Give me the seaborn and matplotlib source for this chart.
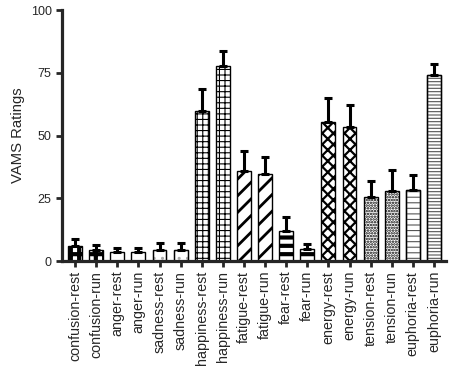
import matplotlib
matplotlib.use("Agg")
import matplotlib.pyplot as plt
import numpy as np
import pandas as pd
import seaborn as sns
from matplotlib.patches import Rectangle

# VAMS ratings
conditions = ["confusion-rest", "confusion-run", "anger-rest", "anger-run",
              "sadness-rest", "sadness-run", "happiness-rest", "happiness-run",
              "fatigue-rest", "fatigue-run", "fear-rest", "fear-run",
              "energy-rest", "energy-run", "tension-rest", "tension-run",
              "euphoria-rest", "euphoria-run"]
means = [6.1, 4.6, 3.5, 3.7, 4.6, 4.6, 59.9, 77.8, 36.0, 34.8, 11.8, 4.8,
         55.6, 53.3, 25.5, 28.0, 28.4, 74.2]
sems = [2.5, 1.8, 1.7, 1.5, 2.7, 2.7, 8.6, 5.9, 8.0, 6.7, 5.9, 1.8,
        9.2, 8.7, 6.2, 8.3, 5.9, 4.3]

# hatch, hatch linewidth, hatch colour for each bar
hatches = ["++", "++", "", "", "..", "..", "+++", "+++", "//", "//", "--", "--",
           "xxx", "xxx", "......", "......", "---", "-----"]
hatch_lw = [3.0, 3.0, 1, 1, 1, 1, 0.8, 0.8, 2.0, 2.0, 3.0, 3.0,
            1.6, 1.6, 1.2, 1.2, 0.8, 0.8]
hatch_col = ["black"] * 4 + ["#aaaaaa"] * 2 + ["black"] * 10 + ["#555555"] * 2

sns.set_style("ticks")
plt.rcParams["font.family"] = ["Liberation Sans", "DejaVu Sans"]

df = pd.DataFrame({"cond": conditions, "val": means})

fig, ax = plt.subplots(figsize=(4.56, 3.74), dpi=100)
fig.subplots_adjust(left=0.136, right=0.978, top=0.973, bottom=0.302)

sns.barplot(data=df, x="cond", y="val", color="white", edgecolor="black",
            linewidth=1.0, width=0.66, errorbar=None, ax=ax, zorder=2)

for p, h, lw, hc in zip(ax.patches, hatches, hatch_lw, hatch_col):
    p.set_facecolor("white")
    p.set_edgecolor(hc)
    p.set_hatch(h)
    if hasattr(p, "set_hatch_linewidth"):
        p.set_hatch_linewidth(lw)
    if hc != "black":
        ax.add_patch(Rectangle((p.get_x(), p.get_y()), p.get_width(), p.get_height(),
                               fill=False, edgecolor="black", linewidth=1.0, zorder=2.5))

x = np.arange(len(conditions))
ax.errorbar(x, means, yerr=[np.zeros(len(sems)), sems], fmt="none",
            ecolor="black", elinewidth=2.2, capsize=3.2, capthick=2.2, zorder=3)

ax.set_ylim(0, 100)
ax.set_xlim(-0.62, 17.57)
ax.set_yticks([0, 25, 50, 75, 100])
ax.set_ylabel("VAMS Ratings", fontsize=10.7, labelpad=4)
ax.set_xlabel("")
ax.tick_params(axis="y", labelsize=9, width=2, length=4.5, pad=3)
ax.tick_params(axis="x", labelsize=10.3, width=2, length=4, rotation=90, pad=3)
for s in ["left", "bottom"]:
    ax.spines[s].set_linewidth(2.3)
sns.despine(ax=ax)

fig.savefig("out.png", dpi=100)
